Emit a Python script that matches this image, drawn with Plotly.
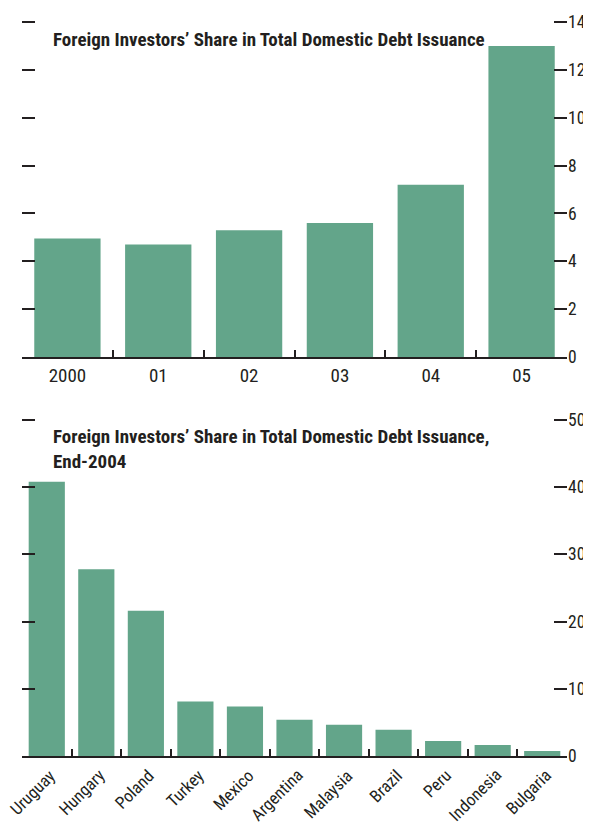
import plotly.graph_objects as go
from plotly.subplots import make_subplots

# dados
years = ["2000", "01", "02", "03", "04", "05"]
share_by_year = [4.95, 4.7, 5.3, 5.6, 7.2, 13.0]

countries = ["Uruguay", "Hungary", "Poland", "Turkey", "Mexico", "Argentina",
             "Malaysia", "Brazil", "Peru", "Indonesia", "Bulgaria"]
share_2004 = [40.8, 27.8, 21.6, 8.1, 7.35, 5.4, 4.65, 3.9, 2.25, 1.65, 0.75]

top_ticks = [0, 2, 4, 6, 8, 10, 12, 14]
bottom_ticks = [0, 10, 20, 30, 40, 50]

# a página tem margem de 8px no body
PAD = 8
W, H = 591 - PAD, 823 - PAD
BAR = "#63a58a"
INK = "#231f20"
FONT = "Roboto Condensed, Arial Narrow, sans-serif"

def fx(px):
    return (px - PAD) / W

def fy(py):
    return 1 - (py - PAD) / H

fig = make_subplots(rows=2, cols=1)

fig.add_trace(go.Bar(x=years, y=share_by_year, marker_color=BAR,
                     marker_line_width=0), row=1, col=1)
fig.add_trace(go.Bar(x=countries, y=share_2004, marker_color=BAR,
                     marker_line_width=0), row=2, col=1)

axis_common = dict(showgrid=False, zeroline=False, ticks="inside",
                   tickcolor=INK, tickwidth=1.5, automargin=False)

fig.update_xaxes(type="category", domain=[fx(22), fx(567)], showline=True,
                 linecolor=INK, linewidth=1.5, tickson="boundaries",
                 ticklen=7, tickfont=dict(family=FONT, size=19, color=INK),
                 **axis_common)
fig.update_xaxes(range=[-0.5, len(years) - 0.5], row=1, col=1)
# rótulos dos países vão como anotações (ficam um pouco à direita do centro)
fig.update_xaxes(range=[-0.5, len(countries) - 0.5], showticklabels=False,
                 row=2, col=1)

fig.update_yaxes(side="right", mirror="ticks", showline=False, ticklen=13,
                 ticklabelstandoff=0,
                 tickfont=dict(family=FONT, size=17.5, color=INK),
                 **axis_common)
# folga pequena no topo para o traço do valor máximo aparecer
fig.update_yaxes(domain=[fy(357), fy(20.6)], range=[0, 14.06],
                 tickvals=top_ticks, row=1, col=1)
fig.update_yaxes(domain=[fy(756), fy(418.6)], range=[0, 50.2],
                 tickvals=bottom_ticks, row=2, col=1)

for c in countries:
    fig.add_annotation(text=c, xref="x2", yref="paper", x=c, y=fy(764),
                       xshift=14, xanchor="right", yanchor="top",
                       textangle=-45, showarrow=False, borderpad=0,
                       font=dict(family=FONT, size=17, color=INK))

title_font = dict(family=FONT, size=19, color=INK)
fig.add_annotation(text="<b>Foreign Investors’ Share in Total Domestic Debt Issuance</b>",
                   xref="paper", yref="paper", x=fx(51), y=fy(39),
                   xanchor="left", yanchor="middle", showarrow=False,
                   font=title_font)
fig.add_annotation(text="<b>Foreign Investors’ Share in Total Domestic Debt Issuance,<br>End-2004</b>",
                   xref="paper", yref="paper", x=fx(51), y=fy(449),
                   xanchor="left", yanchor="middle", align="left",
                   showarrow=False, font=title_font)

fig.update_layout(template="none", width=W, height=H,
                  margin=dict(l=0, r=0, t=0, b=0),
                  plot_bgcolor="white", paper_bgcolor="white",
                  showlegend=False, bargap=0.27)

fig.write_html("out.html")
